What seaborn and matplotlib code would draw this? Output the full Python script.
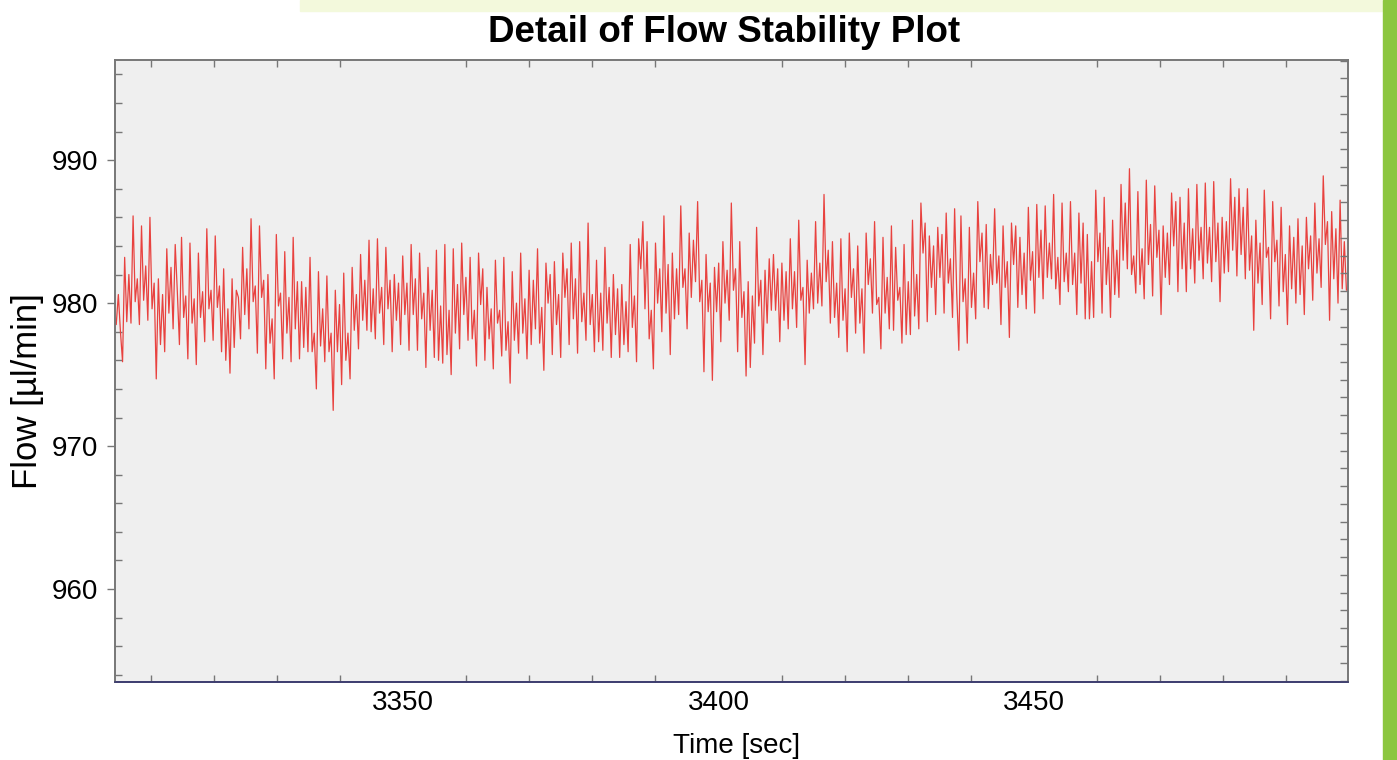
import numpy as np
import matplotlib
matplotlib.use("Agg")
import matplotlib.pyplot as plt
from matplotlib.ticker import MultipleLocator
import seaborn as sns

# flow readings [µl/min] left to right, in segments
flow_a = [978.5, 980.6, 978.0, 975.9, 983.2, 978.7, 982.0, 978.6, 986.1, 980.1, 981.7, 978.5,
          985.4, 980.2, 982.6, 978.8, 986.0, 979.6, 981.4, 974.7, 981.7, 977.1, 980.6, 976.6,
          983.8, 979.3, 982.5, 978.2, 984.1, 980.8, 977.1, 984.6, 979.0, 980.5, 976.1, 984.2,
          978.6, 980.3, 975.7, 983.5, 979.0, 980.8, 977.3, 985.2, 979.6, 980.9, 977.4, 984.7,
          979.7, 981.2, 976.6, 982.4]
flow_b = [976.0, 979.6, 975.1, 981.7, 976.9, 980.9, 980.4, 977.5, 983.9, 979.2, 982.4, 978.2,
          985.9, 980.1, 981.2, 976.5, 985.4, 980.4, 981.6, 975.4, 982.0, 977.2, 978.9, 974.7,
          984.8, 979.8, 980.7, 976.1, 983.6, 977.9, 980.4, 975.9, 984.6, 978.2, 981.5, 976.1,
          981.5, 976.9, 981.1, 976.6, 983.2, 976.6, 977.9, 974.0, 982.2, 977.0, 979.6, 975.9,
          981.9, 976.6, 977.9, 972.5]
flow_c = [980.9, 976.6, 979.9, 974.3, 982.1, 976.0, 977.9, 974.7, 982.5, 978.1, 980.6, 976.8,
          983.4, 978.8, 981.6, 978.1, 984.4, 978.0, 981.0, 977.5, 984.5, 979.3, 981.1, 977.1,
          983.9, 979.6, 981.6, 976.6, 982.0, 978.8, 981.4, 977.1, 983.3, 979.2, 981.4, 976.7,
          984.1, 979.2, 981.7, 976.7, 983.5, 978.9, 980.7, 975.5, 982.5, 978.1, 980.9, 976.2,
          983.7, 976.0, 979.8, 975.8, 984.1]
flow_d = [976.4, 979.5, 975.0, 983.8, 977.9, 981.3, 976.8, 984.2, 979.2, 981.8, 977.4, 983.2,
          977.5, 979.5, 975.6, 983.5, 979.9, 982.4, 976.0, 981.1, 977.5, 979.6, 975.4, 983.0,
          978.6, 979.5, 976.3, 983.2, 976.7, 978.7, 974.4, 982.2, 977.4, 980.0, 976.5, 983.5,
          977.9, 980.3, 976.1, 982.3, 977.1, 981.6, 978.2, 983.8, 977.2, 979.7, 975.3, 982.8,
          980.0, 982.0, 976.4, 982.9]
flow_e = [978.5, 980.6, 976.2, 983.5, 980.4, 982.4, 977.1, 984.2, 978.9, 981.7, 976.5, 984.3,
          978.7, 980.7, 977.4, 985.6, 978.5, 980.6, 976.6, 983.0, 977.3, 980.7, 976.7, 983.9,
          978.6, 981.1, 976.2, 982.0, 977.8, 981.0, 976.2, 981.3, 977.1, 980.1, 976.6, 984.1,
          978.3, 980.5, 975.9, 984.5, 982.4, 985.7, 979.6, 984.3, 977.5, 979.5, 975.4, 984.2,
          980.0, 982.4, 978.0, 986.1]
flow_f = [979.3, 982.7, 976.4, 983.5, 978.9, 982.4, 979.2, 986.8, 981.1, 982.4, 978.2, 984.9,
          980.4, 984.4, 981.5, 987.1, 980.1, 981.6, 975.2, 983.4, 979.4, 981.4, 974.6, 982.5,
          979.4, 982.8, 977.3, 984.3, 980.0, 982.3, 978.8, 987.0, 980.9, 982.4, 976.6, 984.3,
          979.0, 980.8, 974.9, 981.5, 975.5, 980.5, 977.2, 985.3, 979.8, 981.6, 976.4, 982.3,
          978.6, 983.1, 979.5, 983.4]
flow_g = [979.5, 982.4, 977.3, 982.8, 978.8, 982.2, 978.2, 984.5, 979.6, 982.2, 978.3, 985.8,
          980.2, 981.1, 975.7, 983.0, 979.3, 982.1, 979.6, 985.7, 980.0, 982.8, 979.8, 987.6,
          981.5, 983.7, 978.6, 984.3, 979.0, 981.4, 977.6, 984.5, 978.8, 981.0, 976.6, 984.9,
          980.4, 982.4, 977.9, 984.0, 978.6, 981.0, 976.5, 984.9, 981.3, 983.1, 979.3, 985.7,
          979.9, 980.4, 976.8, 984.6]
flow_h = [979.3, 981.8, 978.2, 985.4, 978.1, 983.9, 980.2, 981.1, 977.2, 984.1, 977.8, 981.5,
          977.8, 985.8, 979.1, 982.0, 978.2, 987.0, 983.5, 985.6, 978.7, 984.7, 981.1, 984.0,
          979.2, 985.3, 981.8, 984.8, 979.3, 986.3, 981.4, 983.1, 979.0, 986.6, 980.7, 976.7,
          986.1, 980.1, 981.7, 977.2, 985.3, 979.7, 982.1, 978.9, 987.1, 982.9, 984.9, 979.7,
          985.5, 979.6, 983.4, 981.3, 986.6]
flow_i = [981.4, 983.3, 978.5, 985.4, 981.1, 982.9, 977.6, 985.6, 982.7, 985.4, 979.7, 984.6,
          980.6, 983.5, 979.6, 986.7, 981.6, 983.6, 979.3, 986.9, 981.8, 985.1, 980.3, 986.8,
          981.8, 984.2, 981.7, 987.6, 981.0, 983.2, 979.9, 987.0, 981.5, 983.5, 980.8, 987.1,
          981.3, 983.5, 979.2, 986.3, 981.4, 985.6, 978.9, 984.8, 978.9, 982.9, 979.0, 987.9,
          982.9, 984.9, 979.3, 987.4]
flow_j = [981.3, 983.9, 979.0, 985.8, 980.6, 983.7, 980.4, 988.3, 983.0, 987.0, 982.4, 989.4,
          982.0, 983.3, 980.7, 987.8, 981.3, 983.8, 980.3, 988.6, 982.7, 985.5, 980.5, 988.2,
          983.2, 985.1, 979.2, 985.4, 981.8, 984.9, 981.3, 987.7, 984.0, 987.1, 980.8, 987.4,
          982.4, 985.6, 980.8, 988.0, 982.4, 985.2, 981.4, 988.3, 983.0, 985.3, 981.7, 988.4,
          982.8, 985.3, 981.5, 988.5]
flow_k = [982.9, 985.6, 980.1, 986.0, 982.1, 985.7, 982.2, 988.7, 983.7, 987.4, 981.9, 988.0,
          983.4, 986.7, 981.7, 988.0, 982.3, 984.7, 978.1, 985.8, 981.4, 984.2, 979.9, 987.9,
          983.2, 983.9, 978.9, 987.1, 982.9, 984.4, 979.8, 986.7, 980.8, 983.4, 978.5, 985.4,
          981.0, 984.6, 980.0, 985.9, 980.6, 984.0, 979.2, 986.0, 982.4, 984.7, 980.2, 987.0,
          982.1, 984.5, 981.1, 988.9, 984.1, 985.7, 978.8, 986.4, 981.7, 985.2, 980.0, 987.2,
          981.0, 984.3, 980.9]

t_start = 3304.5      # first sample [sec]
t_step = 0.334        # sampling interval [sec]

x_ticks = [3350, 3400, 3450]
y_ticks = [960, 970, 980, 990]

flow = np.array(flow_a + flow_b + flow_c + flow_d + flow_e + flow_f +
                flow_g + flow_h + flow_i + flow_j + flow_k)
time = t_start + t_step * np.arange(len(flow))

sns.set_style("ticks")
plt.rcParams['font.family'] = ['Liberation Sans', 'DejaVu Sans']
plt.rcParams['text.color'] = 'black'

fig = plt.figure(figsize=(13.97, 7.6), dpi=100)
fig.patch.set_facecolor('white')
ax = fig.add_axes([0.0823, 0.1026, 0.8826, 0.8184])
ax.set_facecolor('#efefef')

sns.lineplot(x=time, y=flow, ax=ax, color='#e8423f', linewidth=0.9, estimator=None)

ax.set_xlim(3304.3, 3499.8)
ax.set_ylim(953.5, 997.0)
ax.set_xticks(x_ticks)
ax.set_yticks(y_ticks)
ax.xaxis.set_minor_locator(MultipleLocator(10))
ax.yaxis.set_minor_locator(MultipleLocator(2))
ax.tick_params(axis='both', which='major', labelsize=20, labelcolor='black',
               length=6, width=1, color='#777777', direction='out', pad=6)
ax.tick_params(axis='both', which='minor', length=5, width=1, color='#777777',
               direction='in', top=True, right=False)
ax.tick_params(axis='x', which='major', top=False, length=0)

# right-hand axis carries its own, finer tick spacing
ax_r = ax.twinx()
ax_r.set_ylim(ax.get_ylim())
ax_r.yaxis.set_major_locator(MultipleLocator(1.24))
ax_r.tick_params(axis='y', which='major', length=6, width=1, color='#777777',
                 direction='in', labelright=False)
ax_r.grid(False)

for a in (ax, ax_r):
    for side in ['left', 'top', 'right']:
        a.spines[side].set_color('#777777')
        a.spines[side].set_linewidth(1.2)
    a.spines['bottom'].set_color('#3c3c6e')
    a.spines['bottom'].set_linewidth(1.2)

ax.set_xlabel('')
ax.set_ylabel('')
fig.text(0.0195, 0.485, 'Flow [µl/min]', rotation=90, fontsize=25,
         ha='center', va='center')
fig.text(0.527, 0.019, 'Time [sec]', fontsize=20, ha='center', va='center')
fig.text(0.518, 0.957, 'Detail of Flow Stability Plot', fontsize=26.5,
         fontweight='bold', ha='center', va='center')

# slide background peeking through: pale band on top, green edge on the right
fig.patches.append(plt.Rectangle((0.215, 0.986), 0.775, 0.014, transform=fig.transFigure,
                                 color='#f3f9dc', zorder=0))
fig.patches.append(plt.Rectangle((0.990, 0.0), 0.010, 1.0, transform=fig.transFigure,
                                 color='#8cc63f', zorder=0))

fig.savefig('out.png', dpi=100)
